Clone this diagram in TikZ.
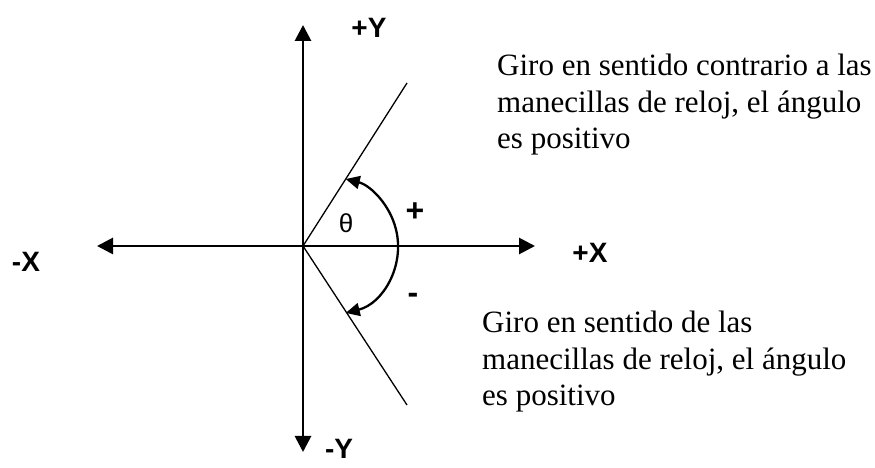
\documentclass[tikz,border=0pt]{standalone}
\usepackage{fontspec}
\setmainfont{Liberation Serif}
\setsansfont{Liberation Sans}
\usetikzlibrary{arrows.meta}

\begin{document}
\begin{tikzpicture}[x=1pt,y=1pt,
    eje/.style={line width=2.8pt,-{Triangle[length=16pt,width=16pt]}},
    recta/.style={line width=1.3pt},
    giro/.style={line width=2.3pt,{Triangle[length=14pt,width=13pt]}-{Triangle[length=14pt,width=13pt]}},
    etiqueta/.style={font=\sffamily\bfseries\fontsize{28}{32}\selectfont,inner sep=0pt},
    signo/.style={font=\sffamily\bfseries\fontsize{32}{36}\selectfont,inner sep=0pt},
    texto/.style={font=\fontsize{31}{36.5}\selectfont,align=left,inner sep=0pt,anchor=north west}]
    \useasboundingbox (0,0) rectangle (875,468);
    % Origen y extremos de los ejes
    \coordinate (O) at (303,222);
    \coordinate (xneg) at (97,222);
    \coordinate (xpos) at (535,222);
    \coordinate (ypos) at (303,443);
    \coordinate (yneg) at (303,16);
    % Ejes
    \draw[eje] (O) -- (xneg);
    \draw[eje] (O) -- (xpos);
    \draw[eje] (O) -- (ypos);
    \draw[eje] (O) -- (yneg);
    % Rectas del giro
    \coordinate (sup) at (407,385);
    \coordinate (inf) at (407,63);
    \draw[recta] (O) -- (sup);
    \draw[recta] (O) -- (inf);
    % Arco del ángulo
    \coordinate (centro) at (329,222);
    \draw[giro] ([shift={(-76:69)}]centro) arc[start angle=-76,end angle=76,radius=69];
    % Etiquetas de los ejes
    \node[etiqueta] (ymas) at (369,440) {+Y};
    \node[etiqueta] (xmenos) at (26,206) {-X};
    \node[etiqueta] (xmas) at (590,215) {+X};
    \node[etiqueta,anchor=base] (ymenos) at (339,9) {-Y};
    % Ángulo theta y signos
    \node[font=\sffamily\fontsize{26}{30}\selectfont,inner sep=0pt] (theta) at (346,245) {θ};
    \node[signo] (mas) at (415,256) {+};
    \node[signo] (menos) at (413,170) {-};
    % Textos
    \node[texto] (antihorario) at (497,414) {Giro en sentido contrario a las\\manecillas de reloj, el ángulo\\es positivo};
    \node[texto] (horario) at (482,157) {Giro en sentido de las\\manecillas de reloj, el ángulo\\es positivo};
\end{tikzpicture}
\end{document}
